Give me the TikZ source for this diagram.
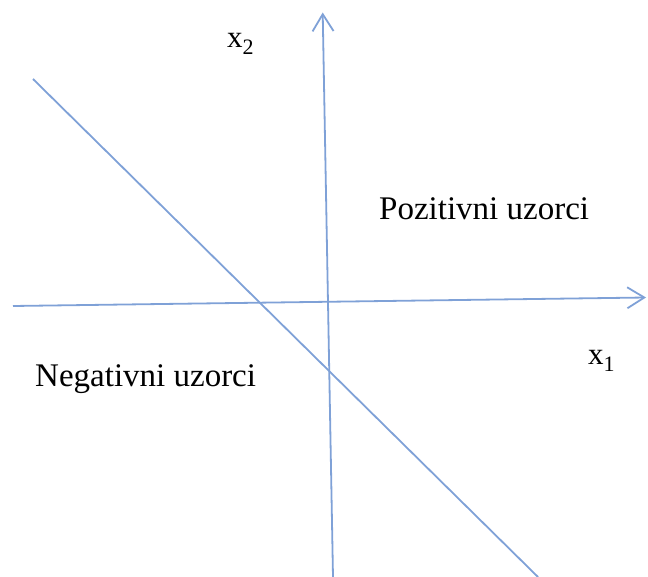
\documentclass[tikz,border=0pt]{standalone}
\usepackage{fontspec}
\setmainfont{Liberation Serif}
\usetikzlibrary{arrows.meta}
\definecolor{axisblue}{HTML}{7FA1D7}
\tikzset{
  axisline/.style={draw=axisblue, line width=1.8pt},
  axisarrow/.style={axisline, -{Straight Barb[length=17pt,width=21pt,line width=1.8pt]}},
  region/.style={anchor=base west, inner sep=0pt, font=\fontsize{33}{38}\selectfont},
  axlabel/.style={anchor=base west, inner sep=0pt, font=\fontsize{31}{36}\selectfont}
}
\newcommand{\axsub}[1]{\raisebox{-7pt}{\fontsize{22}{26}\selectfont #1}}
\begin{document}
\begin{tikzpicture}[x=1pt,y=-1pt]
\useasboundingbox (0,0) rectangle (648,577);
% axes
\coordinate (hL) at (13,306);
\coordinate (hR) at (646,297.5);
\coordinate (vB) at (333,577);
\coordinate (vT) at (322.7,12.5);
\coordinate (dA) at (33,79);
\coordinate (dB) at (538,577);
\draw[axisarrow] (hL) -- (hR);
\draw[axisarrow] (vB) -- (vT);
\draw[axisline] (dA) -- (dB);
% labels
\node[axlabel] (x2) at (227,48) {x\axsub{2}};
\node[axlabel] (x1) at (588,364) {x\axsub{1}};
\node[region] (pos) at (379,220) {Pozitivni uzorci};
\node[region] (neg) at (35,386) {Negativni uzorci};
\end{tikzpicture}
\end{document}
